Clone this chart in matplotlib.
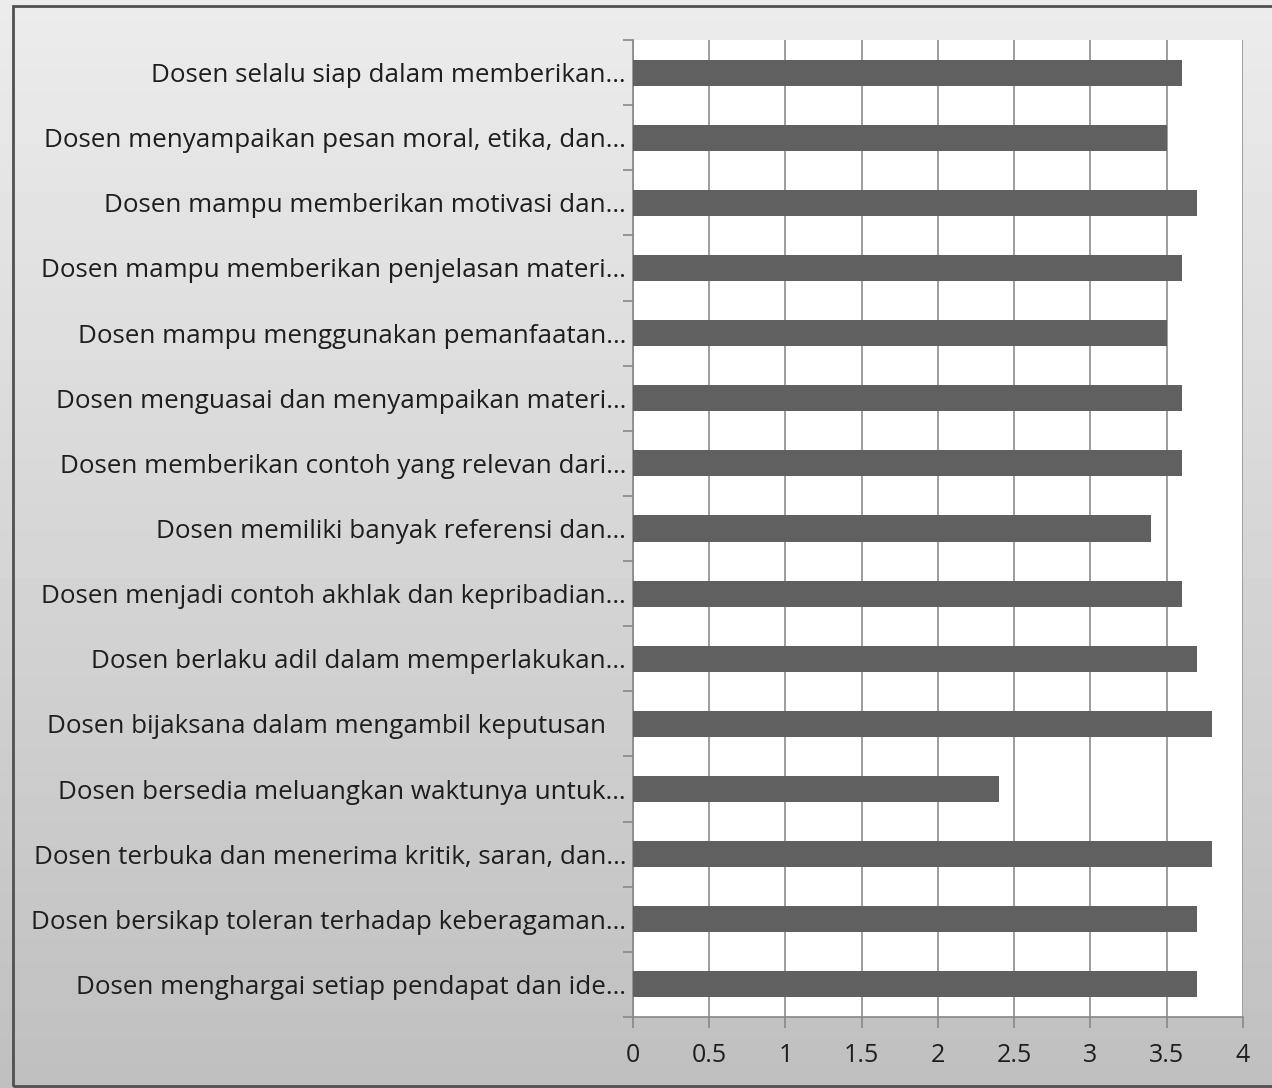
import matplotlib.pyplot as plt
import numpy as np
from matplotlib.patches import Rectangle

labels = [
    "Dosen selalu siap dalam memberikan…",
    "Dosen menyampaikan pesan moral, etika, dan…",
    "Dosen mampu memberikan motivasi dan…",
    "Dosen mampu memberikan penjelasan materi…",
    "Dosen mampu menggunakan pemanfaatan…",
    "Dosen menguasai dan menyampaikan materi…",
    "Dosen memberikan contoh yang relevan dari…",
    "Dosen memiliki banyak referensi dan…",
    "Dosen menjadi contoh akhlak dan kepribadian…",
    "Dosen berlaku adil dalam memperlakukan…",
    "Dosen bijaksana dalam mengambil keputusan   ",
    "Dosen bersedia meluangkan waktunya untuk…",
    "Dosen terbuka dan menerima kritik, saran, dan…",
    "Dosen bersikap toleran terhadap keberagaman…",
    "Dosen menghargai setiap pendapat dan ide…",
]
values = [3.6, 3.5, 3.7, 3.6, 3.5, 3.6, 3.6, 3.4, 3.6, 3.7, 3.8, 2.4, 3.8, 3.7, 3.7]
xticks = [0, 0.5, 1, 1.5, 2, 2.5, 3, 3.5, 4]

plt.rcParams["font.family"] = ["Open Sans", "DejaVu Sans"]

fig = plt.figure(figsize=(12.72, 10.88), dpi=100)

# gradient background
bg = fig.add_axes([0, 0, 1, 1], zorder=-2)
grad = np.linspace(0.925, 0.75, 256).reshape(-1, 1)
bg.imshow(grad, aspect="auto", cmap="gray", vmin=0, vmax=1,
          extent=[0, 1, 0, 1], origin="upper")
bg.set_xlim(0, 1)
bg.set_ylim(0, 1)
bg.add_patch(Rectangle((0.0105, 0.002), 1.2, 0.9925, fill=False,
                       edgecolor="#505050", linewidth=2.0))
bg.axis("off")

ax = fig.add_axes([0.4976, 0.0653, 0.4796, 0.8979])
n = len(labels)
ypos = np.arange(n)[::-1]
ax.barh(ypos, values, height=0.4, color="#606060", zorder=3)

ax.set_xlim(0, 4)
ax.set_ylim(-0.5, n - 0.5)
ax.set_xticks(xticks)
ax.set_xticklabels([f"{t:g}" for t in xticks], fontsize=18, color="#1e1e1e")
ax.set_yticks(ypos)
ax.set_yticklabels(labels, fontsize=18.7, color="#1e1e1e")
ax.set_yticks(np.arange(-0.5, n, 1), minor=True)
ax.tick_params(axis="y", which="major", length=0, pad=5)
ax.tick_params(axis="y", which="minor", length=7, color="#888888", width=1.2)
ax.tick_params(axis="x", which="major", length=8, color="#888888", width=1.2, pad=11)

ax.grid(axis="x", color="#8c8c8c", linewidth=1.2, zorder=0)
ax.set_facecolor("white")
for side in ["top", "right"]:
    ax.spines[side].set_visible(False)
for side in ["left", "bottom"]:
    ax.spines[side].set_color("#888888")
    ax.spines[side].set_linewidth(1.2)

fig.savefig("out.png", dpi=100)
